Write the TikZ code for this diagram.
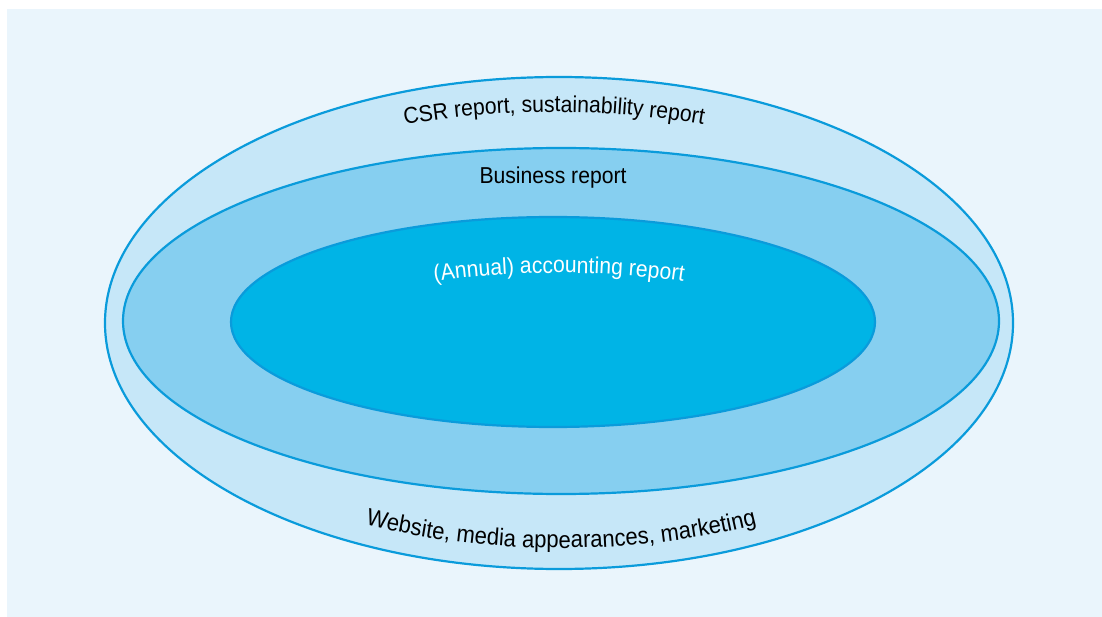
\documentclass[tikz,border=0pt]{standalone}
\usepackage{fontspec}
\setmainfont{Liberation Sans}[FakeStretch=0.92]
\usepackage{tikz}
\usetikzlibrary{decorations.text}

\definecolor{bgblue}{HTML}{EAF5FC}
\definecolor{outerblue}{HTML}{C6E7F8}
\definecolor{middleblue}{HTML}{86CFF0}
\definecolor{innerblue}{HTML}{00B4E6}
\definecolor{ringline}{HTML}{0A9BDB}
\newcommand{\ringfont}{\fontsize{23}{27}\selectfont}
\newcommand{\wideringfont}{\fontsize{24}{28}\selectfont}

\begin{document}
\begin{tikzpicture}[x=1pt,y=-1pt,
    ring/.style={draw=ringline, line width=2.2pt}]
                \useasboundingbox (0,0) rectangle (1102,617);
                % Background
                \fill[bgblue] (7,9) rectangle (1102,617);
                % Rings
                \filldraw[ring, fill=outerblue] (559,323) ellipse [x radius=454, y radius=246];
                \filldraw[ring, fill=middleblue] (561,321) ellipse [x radius=438, y radius=173];
                \filldraw[ring, fill=innerblue] (553,322) ellipse [x radius=322, y radius=105];
                % Outer ring labels
                \path[decorate, decoration={text along path, text align=center,
                    text={|\ringfont|CSR report, sustainability report}}]
                    (554,323) ++(240:435 and 211) arc[start angle=240, end angle=300, x radius=435, y radius=211];
                \path[decorate, decoration={text along path, text align=center,
                    text={|\wideringfont|Website, media appearances, marketing}}]
                    (561,323) ++(120:440 and 225) arc[start angle=120, end angle=60, x radius=440, y radius=225];
                % Middle ring label
                \node[anchor=base, font=\ringfont] (business) at (553,184) {Business report};
                % Inner ring label
                \path[decorate, decoration={text along path, text align=center, text color=white,
                    text={|\ringfont|(Annual) accounting report}}]
                    (559,322) ++(225:219 and 49) arc[start angle=225, end angle=315, x radius=219, y radius=49];
            \end{tikzpicture}
\end{document}
